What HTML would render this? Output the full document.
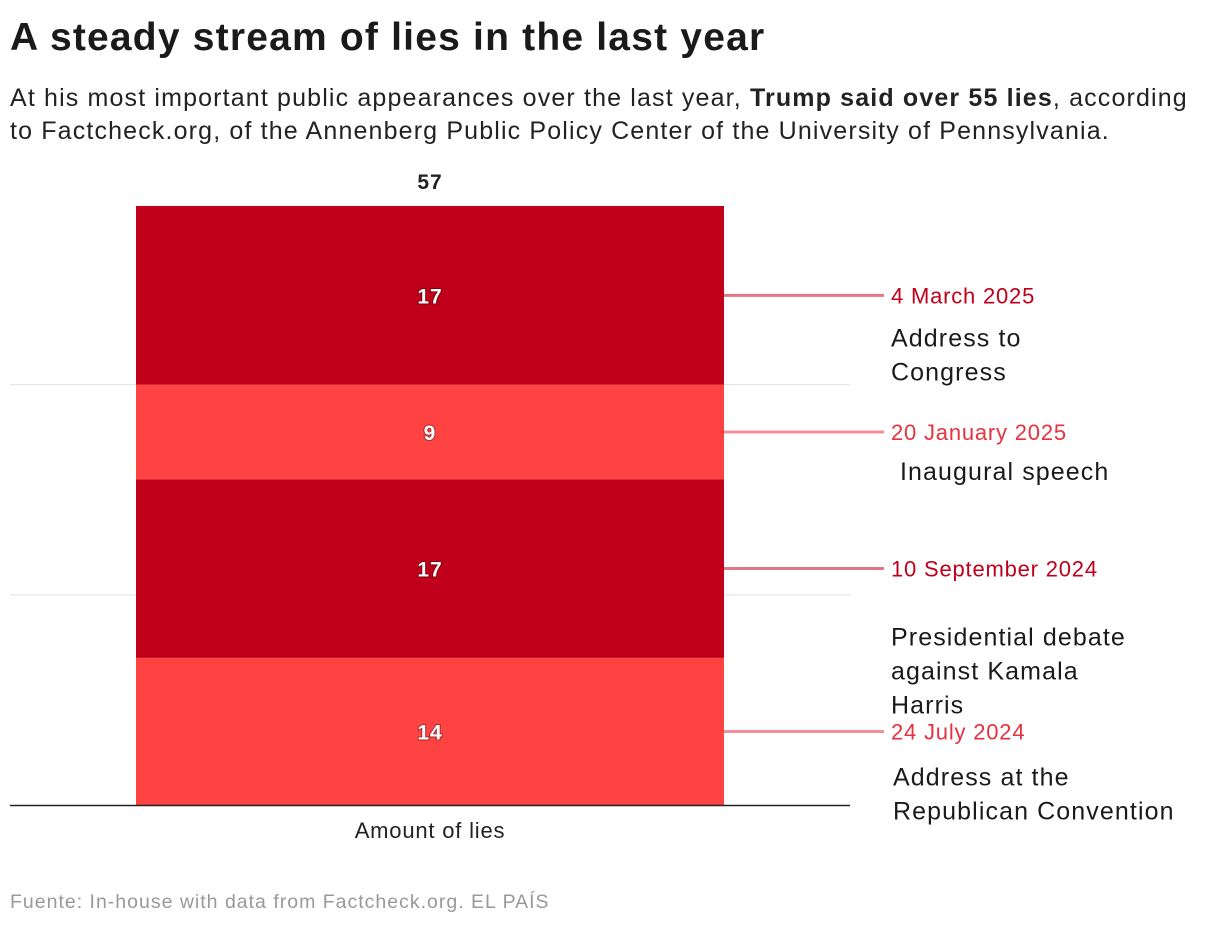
<!DOCTYPE html>
<html><head><meta charset="utf-8">
<style>
body{margin:0;background:#fff;font-family:"Liberation Sans",Arial,sans-serif;color:#1a1a1a;}
#wrap{position:relative;width:1220px;height:926px;overflow:hidden;}
h1{position:absolute;left:10px;top:16px;margin:0;font-size:39px;font-weight:bold;letter-spacing:1.2px;white-space:nowrap;}
#sub{position:absolute;left:10px;top:82px;width:1210px;margin:0;font-size:25px;letter-spacing:1.15px;line-height:33px;color:#222;white-space:nowrap;}
#foot{position:absolute;left:10px;top:891px;font-size:19.5px;letter-spacing:1px;color:#999;white-space:nowrap;}
svg{position:absolute;left:0;top:0;}
</style></head>
<body>
<div id="wrap">
<h1>A steady stream of lies in the last year</h1>
<p id="sub">At his most important public appearances over the last year, <b>Trump said over 55 lies</b>, according<br>to Factcheck.org, of the Annenberg Public Policy Center of the University of Pennsylvania.</p>
<svg id="chart" width="1220" height="926"></svg>
<div id="foot">Fuente: In-house with data from Factcheck.org. EL PAÍS</div>
</div>
<script>
const categories = ["24 July 2024","10 September 2024","20 January 2025","4 March 2025"];
const values = [14,17,9,17];
const descriptions = [["Address at the","Republican Convention"],["Presidential debate","against Kamala","Harris"],["Inaugural speech"],["Address to","Congress"]];
const gridTicks = [20,40];
const xLabel = "Amount of lies";

const NS="http://www.w3.org/2000/svg";
const svg=document.getElementById('chart');
const y0=805, pxPerUnit=599/57;
const y=v=>y0-v*pxPerUnit;
function mk(tag,attrs,parent){const e=document.createElementNS(NS,tag);for(const k in attrs)e.setAttribute(k,attrs[k]);(parent||svg).appendChild(e);return e;}
const fills=["#ff4242","#c0001a","#ff4242","#c0001a"];
const lineCols=["#f0909a","#e07884","#f0909a","#e07884"];
const dateCols=["#e8313f","#c0001a","#e8313f","#c0001a"];
const descDx=[893,891,900,891];
const descDy=[45,68,39,42];

gridTicks.forEach(t=>{
  const g=mk('line',{x1:10,x2:850,y1:y(t),y2:y(t),stroke:'#e2e2e2','stroke-width':1});
  
  
});
let cum=0;
values.forEach((v,i)=>{
  const top=y(cum+v), bot=y(cum), mid=(top+bot)/2;
  const r=mk('rect',{x:136,y:top,width:588,height:bot-top,fill:fills[i]});
  
  
  const t=mk('text',{x:430,y:mid+8,'text-anchor':'middle','font-size':21,'font-weight':'bold','letter-spacing':1,fill:'#fff',style:'paint-order:stroke;stroke:rgba(0,0,0,0.35);stroke-width:2px'});
  t.textContent=v;
  
  
  const l=mk('line',{x1:724,x2:884,y1:mid,y2:mid,stroke:lineCols[i],'stroke-width':3});
  
  
  const d=mk('text',{x:891,y:mid+8,'font-size':22,'letter-spacing':0.8,fill:dateCols[i]});
  d.textContent=categories[i];
  
  
  descriptions[i].forEach((line,j)=>{
    const s=mk('text',{x:descDx[i],y:mid+descDy[i]+9+j*34,'font-size':25,'letter-spacing':1.1,fill:'#1a1a1a'});
    s.textContent=line;
    
    
  });
  cum+=v;
});
const tot=mk('text',{x:430,y:y(cum)-17,'text-anchor':'middle','font-size':21,'font-weight':'bold','letter-spacing':1,fill:'#222'});
tot.textContent=cum;


const ax=mk('line',{x1:10,x2:850,y1:y0+0.5,y2:y0+0.5,stroke:'#222','stroke-width':1.5});


const xl=mk('text',{x:430,y:838,'text-anchor':'middle','font-size':22,'letter-spacing':0.8,fill:'#222'});
xl.textContent=xLabel;


</script>
</body></html>
